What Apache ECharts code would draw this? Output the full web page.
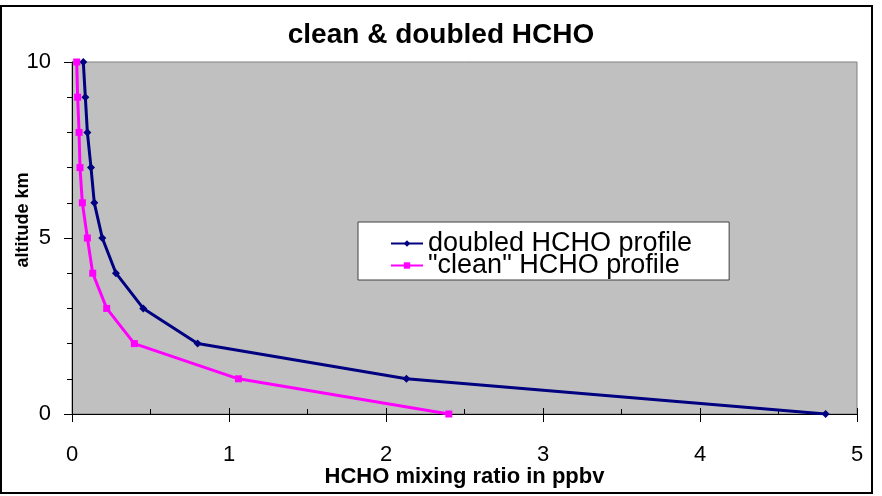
<!DOCTYPE html>
<html>
<head>
<meta charset="utf-8">
<style>
  html, body { margin: 0; padding: 0; background: #ffffff; }
  #chart { width: 882px; height: 496px; }
</style>
<script src="https://cdn.jsdelivr.net/npm/echarts@6/dist/echarts.min.js"></script>
</head>
<body>
<div id="chart"></div>
<script>
// Altitude levels (km) and HCHO mixing ratios (ppbv) for both profiles
const altitudes = [0, 1, 2, 3, 4, 5, 6, 7, 8, 9, 10];
const doubledProfile = [4.8, 2.13, 0.80, 0.454, 0.28, 0.193, 0.142, 0.121, 0.098, 0.085, 0.072];
const cleanProfile = [2.4, 1.06, 0.397, 0.221, 0.132, 0.098, 0.066, 0.051, 0.045, 0.036, 0.030];
const seriesNames = ['doubled HCHO profile', '"clean" HCHO profile'];
const xTicks = [0, 1, 2, 3, 4, 5];
const yTicks = [0, 5, 10];

const FONT = '"Liberation Sans", Arial, sans-serif';

const pairs = (xs) => xs.map((x, i) => [x, altitudes[i]]);

const chart = echarts.init(document.getElementById('chart'), null, { renderer: 'canvas' });

chart.setOption({
  animation: false,
  backgroundColor: '#ffffff',
  title: {
    text: 'clean & doubled HCHO',
    left: 'center',
    top: 16,
    textStyle: { fontFamily: FONT, fontSize: 28, fontWeight: 'bold', color: '#000000' }
  },
  graphic: [{
    type: 'rect',
    shape: { x: 1, y: 6, width: 871, height: 487 },
    style: { fill: 'none', stroke: '#000000', lineWidth: 2 },
    silent: true,
    z: -1
  }],
  legend: {
    orient: 'vertical',
    left: 358,
    top: 222,
    padding: [8, 37, 1, 32],
    itemGap: -5,
    itemWidth: 32,
    itemHeight: 8,
    backgroundColor: '#ffffff',
    borderColor: '#404040',
    borderWidth: 1,
    textStyle: { fontFamily: FONT, fontSize: 27, color: '#000000' },
    data: seriesNames
  },
  grid: {
    left: 72, right: 25, top: 62, bottom: 82,
    outerBoundsMode: 'none',
    containLabel: false,
    show: true,
    backgroundColor: '#c0c0c0',
    borderColor: '#808080',
    borderWidth: 1
  },
  xAxis: [{
    type: 'value',
    min: xTicks[0],
    max: xTicks[xTicks.length - 1],
    interval: 1,
    name: 'HCHO mixing ratio in ppbv',
    nameLocation: 'middle',
    nameGap: 52,
    nameMoveOverlap: false,
    nameTextStyle: { fontFamily: FONT, fontSize: 22, fontWeight: 'bold', color: '#000000' },
    axisLine: { show: true, lineStyle: { color: '#000000', width: 1 } },
    axisTick: { show: true, inside: false, length: 8, lineStyle: { color: '#000000' } },
    axisLabel: { show: true, margin: 30, fontFamily: FONT, fontSize: 22, color: '#000000' },
    splitLine: { show: false }
  }, {
    type: 'value',
    min: xTicks[0],
    max: xTicks[xTicks.length - 1],
    interval: 1,
    position: 'bottom',
    axisLine: { show: false },
    axisTick: { show: true, inside: true, length: 6, lineStyle: { color: '#000000' } },
    minorTick: { show: true, splitNumber: 2, length: 5, lineStyle: { color: '#000000' } },
    axisLabel: { show: false },
    splitLine: { show: false }
  }],
  yAxis: {
    type: 'value',
    min: yTicks[0],
    max: yTicks[yTicks.length - 1],
    interval: 5,
    name: 'altitude km',
    nameLocation: 'middle',
    nameGap: 40,
    nameMoveOverlap: false,
    nameTextStyle: { fontFamily: FONT, fontSize: 18, fontWeight: 'bold', color: '#000000', padding: [0, 0, 0, 36] },
    axisLine: { show: true, lineStyle: { color: '#000000', width: 1 } },
    axisTick: { show: true, inside: false, length: 8, lineStyle: { color: '#000000' } },
    minorTick: { show: true, splitNumber: 5, length: 5, lineStyle: { color: '#000000' } },
    axisLabel: { margin: 21, fontFamily: FONT, fontSize: 22, color: '#000000' },
    splitLine: { show: false }
  },
  series: [{
    name: seriesNames[0],
    type: 'line',
    xAxisIndex: 0,
    data: pairs(doubledProfile),
    color: '#000080',
    symbol: 'diamond',
    symbolSize: 8,
    showAllSymbol: true,
    lineStyle: { width: 3, color: '#000080' },
    itemStyle: { color: '#000080' },
    z: 3
  }, {
    name: seriesNames[1],
    type: 'line',
    xAxisIndex: 0,
    data: pairs(cleanProfile),
    color: '#ff00ff',
    symbol: 'rect',
    symbolSize: 7,
    showAllSymbol: true,
    lineStyle: { width: 3, color: '#ff00ff' },
    itemStyle: { color: '#ff00ff' },
    z: 4
  }]
});
</script>
</body>
</html>
